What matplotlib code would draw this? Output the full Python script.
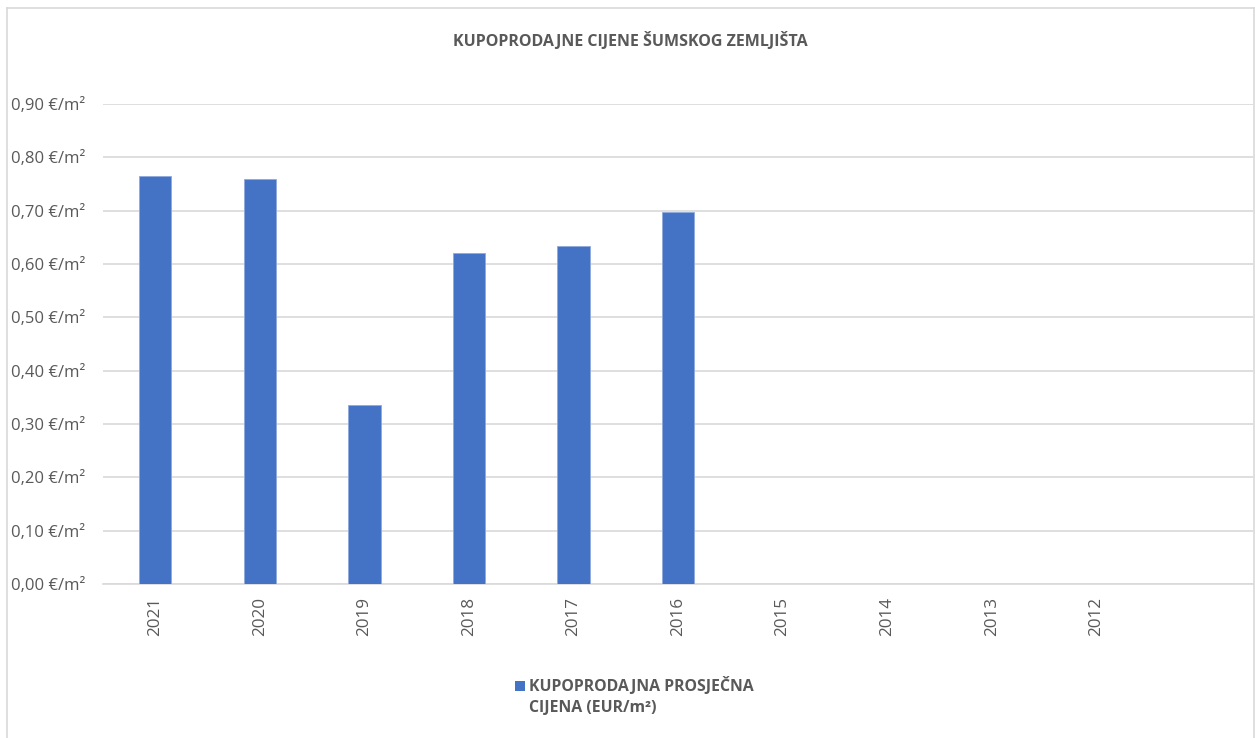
import matplotlib
matplotlib.use("Agg")
import matplotlib.pyplot as plt
import numpy as np
from matplotlib.patches import Rectangle
from matplotlib.lines import Line2D

years = ["2021", "2020", "2019", "2018", "2017", "2016", "2015", "2014", "2013", "2012", ""]
prices = [0.765, 0.759, 0.335, 0.621, 0.634, 0.698, np.nan, np.nan, np.nan, np.nan, np.nan]
y_ticks = [0.0, 0.1, 0.2, 0.3, 0.4, 0.5, 0.6, 0.7, 0.8, 0.9]
title = "KUPOPRODAJNE CIJENE ŠUMSKOG ZEMLJIŠTA"
legend_lines = ["KUPOPRODAJNA PROSJEČNA", "CIJENA (EUR/m²)"]

TXT = "#595959"
BAR = "#4472C4"
GRID = "#D9D9D9"

plt.rcParams["font.family"] = ["Open Sans", "DejaVu Sans"]

W, H = 1255, 738
fig = plt.figure(figsize=(W / 100, H / 100), dpi=100)
ax = fig.add_axes([103 / W, 1 - 584 / H, (1253 - 103) / W, (584 - 104) / H])

x = np.arange(len(years))
ax.bar(x, prices, width=0.31, color=BAR, edgecolor="#8FAADC", linewidth=0.6, zorder=3)
ax.set_xlim(-0.5, len(years) - 0.5)
ax.set_ylim(0, 0.9)
ax.set_yticks(y_ticks)
ax.set_yticklabels([f"{v:.2f}".replace(".", ",") + " €/m²" for v in y_ticks],
                   fontsize=12, color=TXT)
ax.set_xticks(x)
ax.set_xticklabels(years, rotation=90, fontsize=12.3, color=TXT)
ax.tick_params(axis="both", length=0)
ax.tick_params(axis="x", pad=9)
for lab in ax.get_yticklabels():
    lab.set_horizontalalignment("left")
ax.tick_params(axis="y", pad=(103 - 11) * 0.72)
ax.grid(axis="y", color=GRID, linewidth=1.2, zorder=0)
for s in ["top", "right", "left"]:
    ax.spines[s].set_visible(False)
ax.spines["bottom"].set_color(GRID)
ax.spines["bottom"].set_linewidth(1.2)

fig.text(630 / W, 1 - 41 / H, title, ha="center", va="center", fontsize=11.5,
         fontweight="bold", color=TXT)

# legend
fig.patches.append(Rectangle((515 / W, 1 - 691 / H), 10 / W, 10 / H,
                             transform=fig.transFigure, facecolor=BAR, edgecolor="none"))
fig.text(529 / W, 1 - 686 / H, legend_lines[0], ha="left", va="center", fontsize=11.4,
         fontweight="bold", color=TXT)
fig.text(529 / W, 1 - 708 / H, legend_lines[1], ha="left", va="center", fontsize=11.4,
         fontweight="bold", color=TXT)

# chart frame
for (x0, y0, x1, y1) in [(7, 8, 1254, 8), (7, 8, 7, 738), (1254, 8, 1254, 738)]:
    fig.add_artist(Line2D([x0 / W, x1 / W], [1 - y0 / H, 1 - y1 / H],
                          transform=fig.transFigure, color="#D9D9D9", linewidth=1.2))

fig.savefig("out.png", dpi=100, facecolor="white")
